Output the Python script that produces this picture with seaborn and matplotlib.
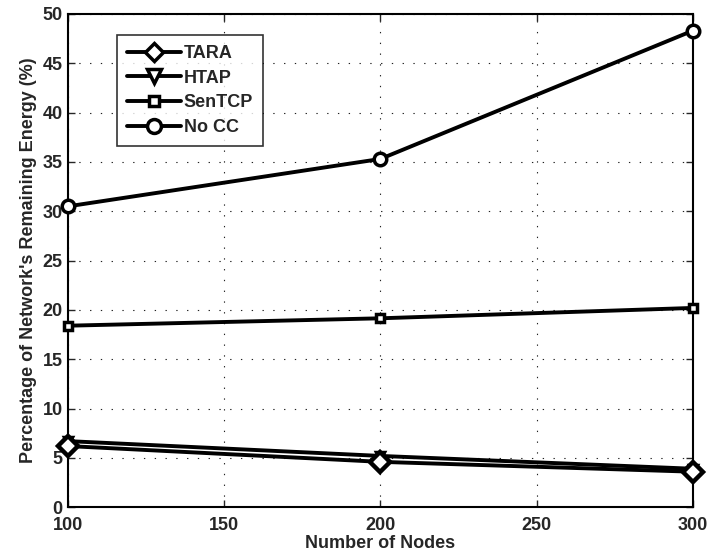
import matplotlib
matplotlib.use("Agg")
import matplotlib.pyplot as plt
import seaborn as sns
import pandas as pd

nodes = [100, 200, 300]
tara = [6.2, 4.6, 3.6]
htap = [6.7, 5.2, 3.9]
sentcp = [18.4, 19.15, 20.2]
nocc = [30.5, 35.3, 48.3]
methods = ["TARA", "HTAP", "SenTCP", "No CC"]
series = [tara, htap, sentcp, nocc]
marker_map = {"TARA": "D", "HTAP": "v", "SenTCP": "s", "No CC": "o"}
size_map = {"TARA": 10, "HTAP": 6, "SenTCP": 6, "No CC": 9}
leg_size = {"TARA": 9, "HTAP": 10, "SenTCP": 7, "No CC": 10}

rows = []
for m, vals in zip(methods, series):
    for n, v in zip(nodes, vals):
        rows.append({"Nodes": n, "Value": v, "Method": m})
df = pd.DataFrame(rows)

sns.set_style("ticks")
plt.rcParams["font.family"] = ["Liberation Sans", "DejaVu Sans"]
plt.rcParams["font.weight"] = "bold"

fig = plt.figure(figsize=(7.09, 5.58), dpi=100)
ax = fig.add_axes([0.096, 0.091, 0.881, 0.884])

# draw HTAP first so TARA diamonds sit on top
draw_order = ["HTAP", "TARA", "SenTCP", "No CC"]
z = {"HTAP": 3, "TARA": 4, "SenTCP": 5, "No CC": 6}
for m in draw_order:
    sub = df[df["Method"] == m]
    sns.lineplot(data=sub, x="Nodes", y="Value", ax=ax, color="black", lw=2.8,
                 marker=marker_map[m], markersize=size_map[m], markerfacecolor="white",
                 markeredgecolor="black", markeredgewidth=2.5 if m != "TARA" else 3.2,
                 label=m, clip_on=False, zorder=z[m])

ax.set_xlim(100, 300)
ax.set_ylim(0, 50)
ax.set_xticks([100, 150, 200, 250, 300])
ax.set_yticks(range(0, 51, 5))
ax.grid(True, color="#222222", linestyle=(0, (1.2, 8.5)), linewidth=0.8)
for s in ax.spines.values():
    s.set_visible(True)
    s.set_linewidth(1.5)
    s.set_color("black")
ax.tick_params(direction="in", length=5, width=1, labelsize=13, top=True, right=True,
               labeltop=False, labelright=False)
ax.tick_params(axis="x", pad=7)
ax.tick_params(axis="y", pad=4)
for lab in ax.get_xticklabels() + ax.get_yticklabels():
    lab.set_fontweight("bold")
ax.set_xlabel("Number of Nodes", fontsize=13, fontweight="bold", labelpad=1)
ax.set_ylabel("Percentage of Network's Remaining Energy (%)", fontsize=13, fontweight="bold", labelpad=4)

handles, labels = ax.get_legend_handles_labels()
hmap = dict(zip(labels, handles))
leg = ax.legend([hmap[m] for m in methods], methods, loc="upper left",
                bbox_to_anchor=(0.078, 0.957), frameon=True, fancybox=False,
                edgecolor="black", fontsize=13, handlelength=3.0, borderpad=0.55,
                labelspacing=0.42, handletextpad=0.15, borderaxespad=0)
leg.get_frame().set_linewidth(1.2)
for t in leg.get_texts():
    t.set_fontweight("bold")
for h, m in zip(leg.legend_handles, methods):
    h.set_markersize(leg_size[m])
    h.set_markeredgewidth(2.5)

fig.savefig("out.png", dpi=100)
